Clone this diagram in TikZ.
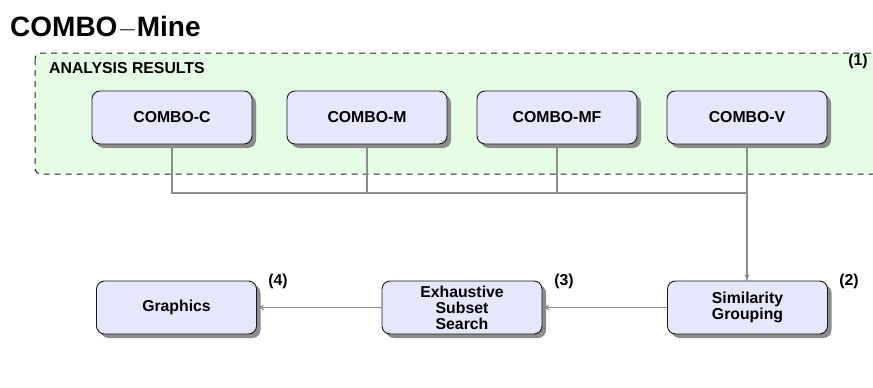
\documentclass[tikz,border=0pt]{standalone}
\usepackage{fontspec}
\setmainfont{Liberation Sans}
\usetikzlibrary{arrows.meta,shadows}
\definecolor{boxfill}{HTML}{E6E6FC}
\definecolor{grpfill}{HTML}{E5FDE5}
\definecolor{linegray}{HTML}{8C8C8C}
\tikzset{
  stagebox/.style={draw=black!90, line width=0.9pt, fill=boxfill, rounded corners=8pt,
    minimum width=160pt, minimum height=53pt, inner sep=2pt, align=center,
    font=\fontsize{15.8}{16}\selectfont\bfseries,
    drop shadow={shadow xshift=4pt, shadow yshift=-4pt, fill=black!45, opacity=1}},
  conn/.style={draw=linegray, line width=1.2pt},
  arr/.style={conn, -{Stealth[length=7pt,width=5pt]}},
  numlabel/.style={font=\fontsize{15.8}{16}\selectfont\bfseries, inner sep=0pt},
}
\begin{document}
\begin{tikzpicture}[x=1pt,y=-1pt]
\clip (0,0) rectangle (873,388);
\fill[white] (0,0) rectangle (873,388);
% group container
\draw[draw=black!85, line width=1pt, dash pattern=on 6pt off 5pt, fill=grpfill, rounded corners=6pt]
  (35,53) rectangle (900,174);
\node[anchor=base west, inner sep=0pt, font=\fontsize{28}{30}\selectfont\bfseries] (title) at (10,36) {COMBO$-$Mine};
\node[anchor=base west, inner sep=0pt, font=\fontsize{15.8}{16}\selectfont\bfseries] (grplabel) at (49,73) {ANALYSIS RESULTS};
\node[numlabel] (n1) at (858,61) {(1)};
% connectors (under boxes)
\coordinate (j) at (747,193);
\draw[conn] (172,120) |- (j);
\draw[conn] (367,120) -- (367,193);
\draw[conn] (557,120) -- (557,193);
\draw[arr] (747,120) -- (747,281);
% top row
\node[stagebox] (c) at (172,117.5) {COMBO-C};
\node[stagebox] (m) at (367,117.5) {COMBO-M};
\node[stagebox] (mf) at (557,117.5) {COMBO-MF};
\node[stagebox] (v) at (747,117.5) {COMBO-V};
% bottom row
\node[stagebox] (sim) at (747.5,307.5) {Similarity\\Grouping};
\node[stagebox] (ess) at (462,307.5) {Exhaustive\\Subset\\Search};
\node[stagebox] (gfx) at (176.5,307.5) {Graphics};
\node[numlabel] (n2) at (849,281) {(2)};
\node[numlabel] (n3) at (564,281) {(3)};
\node[numlabel] (n4) at (278,281) {(4)};
\draw[arr] (sim.west) -- (ess.east);
\draw[arr] (ess.west) -- (gfx.east);
\end{tikzpicture}
\end{document}
